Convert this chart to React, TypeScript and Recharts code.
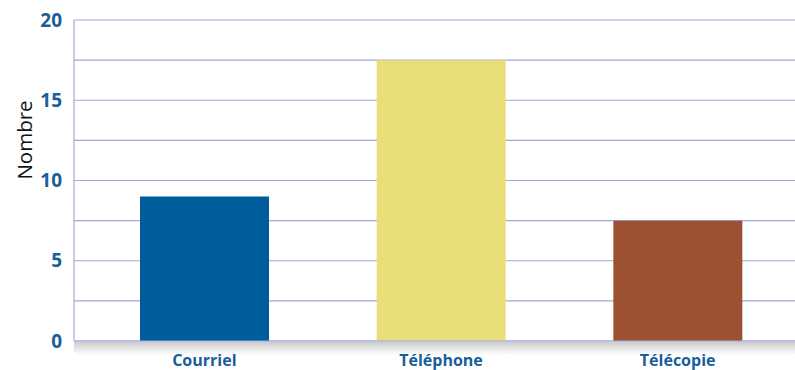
import React from "react";
import { BarChart, Bar, XAxis, YAxis, CartesianGrid, Cell } from "recharts";

const categories = ["Courriel", "Téléphone", "Télécopie"];
const values = [9, 17.5, 7.5];
const colors = ["#005d9c", "#e8df78", "#9c5232"];
const yTicks = [0, 2.5, 5, 7.5, 10, 12.5, 15, 17.5, 20];
const yLabelTicks = [0, 5, 10, 15, 20];
const yTitle = "Nombre";

const data = categories.map((c, i) => ({ name: c, value: values[i] }));

const BLUE = "#175e9b";
const GRID = "#9eaad8";
const FONT = "'Open Sans', 'Noto Sans', sans-serif";

const YTitle = (props: any) => {
  const vb = props.viewBox || { x: 0, y: 20 };
  const cx = 24;
  const cy = vb.y + 120;
  return (
    <text
      x={cx}
      y={cy}
      transform={`rotate(-90, ${cx}, ${cy})`}
      textAnchor="middle"
      dominantBaseline="central"
      fill="#111"
      fontSize={20.5}
      fontFamily={FONT}
    >
      {yTitle}
    </text>
  );
};

export default function App() {
  return (
    <div style={{ position: "absolute", left: 0, top: 0, width: 795, height: 370, background: "#fff", overflow: "hidden" }}>
      <div
        style={{
          position: "absolute",
          left: 74,
          top: 342,
          width: 721,
          height: 13,
          background: "linear-gradient(to bottom, rgba(0,0,0,0.2), rgba(0,0,0,0))",
        }}
      />
      <BarChart
        width={796}
        height={370}
        data={data}
        margin={{ top: 20, right: 0, bottom: 0, left: 0 }}
        style={{ position: "absolute", left: 0, top: 0 }}
      >
        <CartesianGrid vertical={false} stroke={GRID} strokeWidth={1.2} />
        <XAxis
          dataKey="name"
          height={29}
          axisLine={{ stroke: GRID, strokeWidth: 1.2 }}
          tickLine={false}
          padding={{ left: 12, right: 0 }}
          tick={{ fill: BLUE, fontSize: 16, fontWeight: 700, fontFamily: FONT }}
          tickMargin={8}
          interval={0}
        />
        <YAxis
          domain={[0, 20]}
          ticks={yTicks}
          width={74}
          axisLine={{ stroke: GRID, strokeWidth: 1.2 }}
          tickLine={false}
          tickMargin={6}
          interval={0}
          tickFormatter={(v: number) => (yLabelTicks.includes(v) ? String(v) : "")}
          tick={{ fill: BLUE, fontSize: 19, fontWeight: 700, fontFamily: FONT }}
          label={<YTitle />}
        />
        <Bar dataKey="value" barSize={129} isAnimationActive={false}>
          {data.map((d, i) => (
            <Cell key={d.name} fill={colors[i]} />
          ))}
        </Bar>
      </BarChart>
    </div>
  );
}
